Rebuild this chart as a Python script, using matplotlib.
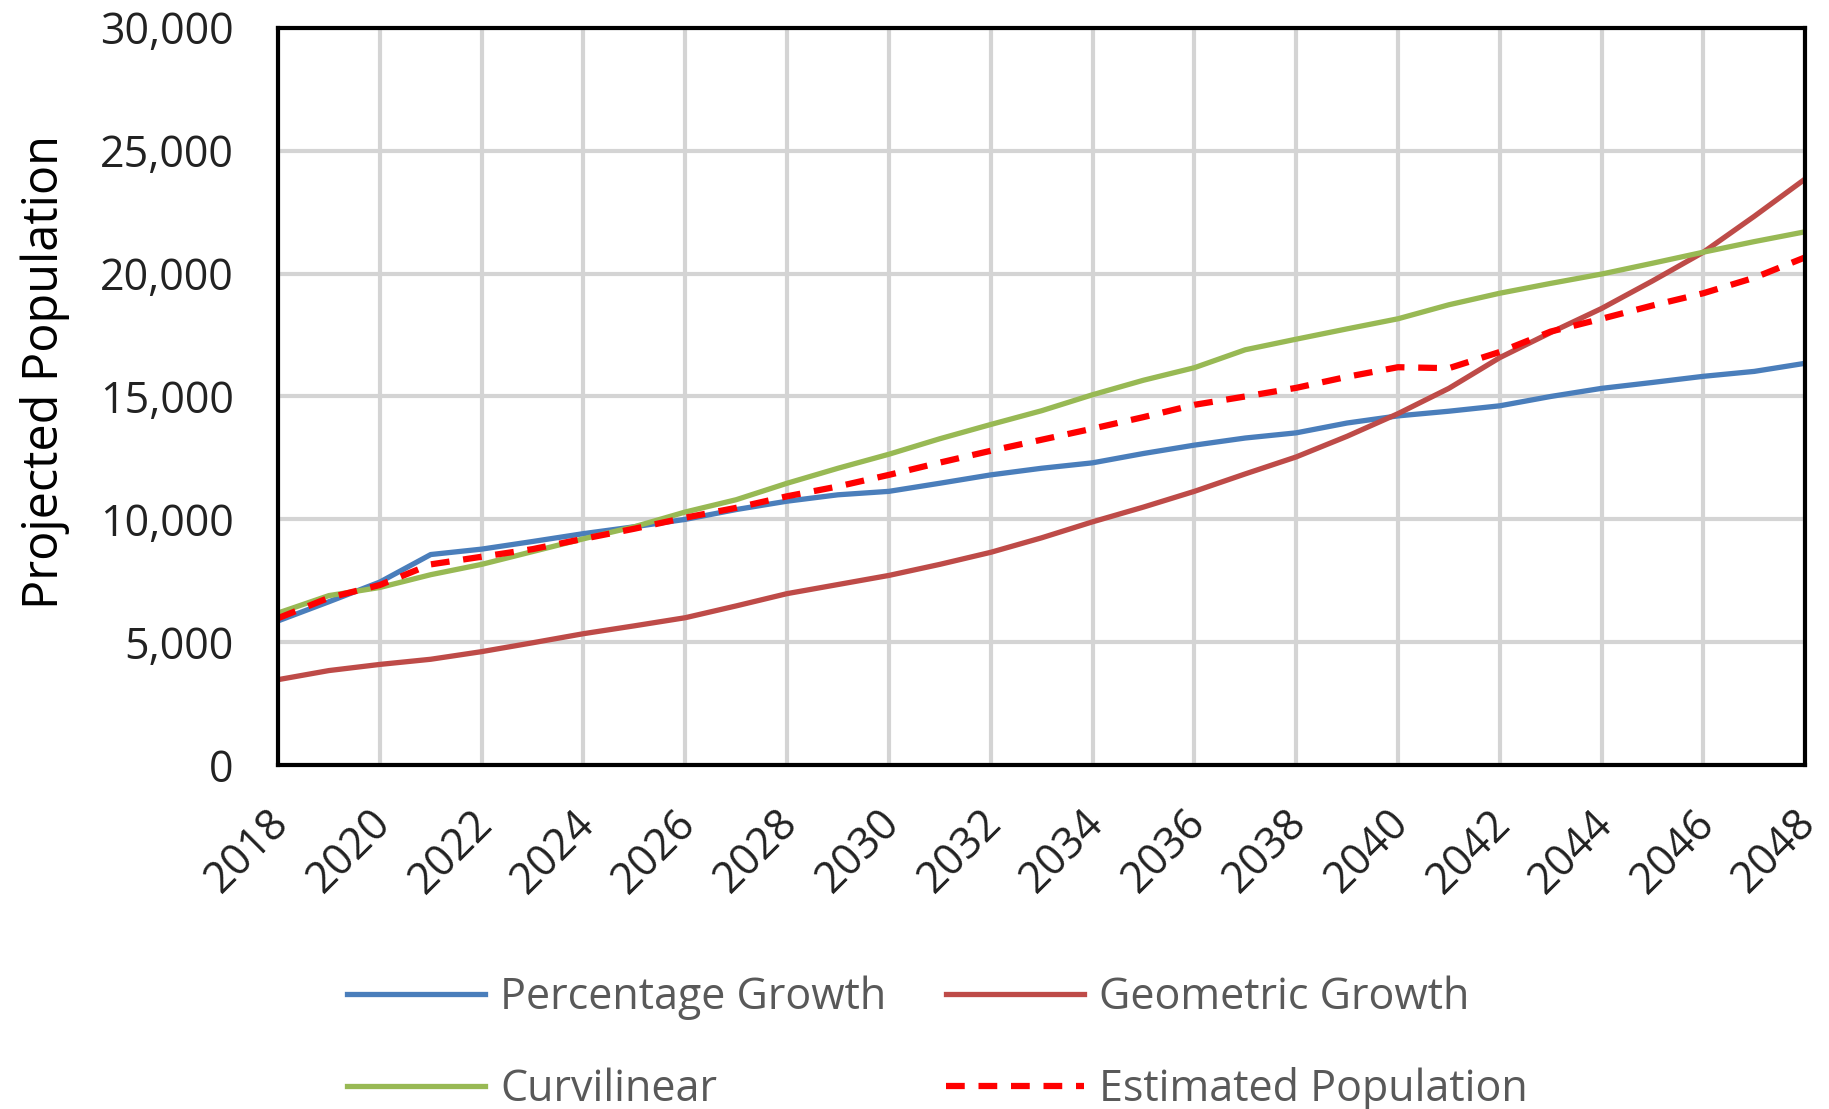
import matplotlib
matplotlib.use("Agg")
import matplotlib.pyplot as plt
import matplotlib.transforms as mtransforms
from matplotlib.ticker import FuncFormatter, MultipleLocator
import numpy as np

plt.rcParams['font.family'] = ['Open Sans', 'DejaVu Sans']

years = np.arange(2018, 2049)

percentage_growth = [5870, 6650, 7450, 8570, 8790, 9100, 9420, 9700, 10000, 10400,
                     10740, 11000, 11140, 11470, 11810, 12080, 12300, 12680, 13020, 13310,
                     13520, 13920, 14210, 14400, 14620, 15000, 15330, 15570, 15820, 16020,
                     16350]
geometric_growth = [3480, 3850, 4100, 4310, 4620, 4980, 5350, 5670, 6000, 6480,
                    6980, 7350, 7720, 8170, 8660, 9250, 9900, 10500, 11140, 11850,
                    12540, 13380, 14300, 15330, 16580, 17600, 18580, 19700, 20870, 22330,
                    23850]
curvilinear = [6190, 6900, 7230, 7750, 8170, 8690, 9210, 9700, 10300, 10800,
               11470, 12080, 12650, 13280, 13860, 14420, 15070, 15660, 16170, 16900,
               17330, 17750, 18160, 18730, 19200, 19600, 19980, 20420, 20870, 21300,
               21700]
estimated_population = [5980, 6810, 7330, 8170, 8480, 8790, 9210, 9620, 10070, 10470,
                        10940, 11340, 11810, 12310, 12790, 13240, 13690, 14160, 14660, 15000,
                        15350, 15800, 16190, 16150, 16810, 17640, 18160, 18700, 19200, 19830,
                        20660]

fig = plt.figure(figsize=(18.29, 11.09), dpi=100)
ax = fig.add_axes([0.152, 0.310, 0.835, 0.665])

l1, = ax.plot(years, percentage_growth, color='#4a7ebb', lw=3.8, label='Percentage Growth')
l2, = ax.plot(years, geometric_growth, color='#be4b48', lw=3.8, label='Geometric Growth')
l3, = ax.plot(years, curvilinear, color='#98b954', lw=3.8, label='Curvilinear')
l4, = ax.plot(years, estimated_population, color='#ff0000', lw=4.5, ls=(0, (3, 2.2)),
              label='Estimated Population')

ax.set_xlim(2018, 2048)
ax.set_ylim(0, 30000)
ax.xaxis.set_major_locator(MultipleLocator(2))
ax.yaxis.set_major_locator(MultipleLocator(5000))
ax.yaxis.set_major_formatter(FuncFormatter(lambda v, p: f"{int(v):,}"))
ax.grid(True, color='#d4d4d4', lw=3)
ax.set_axisbelow(True)
for s in ax.spines.values():
    s.set_linewidth(3)
    s.set_color('black')
ax.tick_params(length=0, labelsize=31, colors='#222222')
ax.tick_params(axis='y', pad=32)
ax.tick_params(axis='x', pad=12)
offset = mtransforms.ScaledTranslation(-8 / 72, -14 / 72, fig.dpi_scale_trans)
for lab in ax.get_xticklabels():
    lab.set_rotation(45)
    lab.set_ha('right')
    lab.set_rotation_mode('anchor')
    lab.set_transform(lab.get_transform() + offset)
ax.set_ylabel('Projected Population', fontsize=35)
ax.yaxis.set_label_coords(-0.136, 0.533)

fig.legend([l1, l3, l2, l4],
           ['Percentage Growth', 'Curvilinear', 'Geometric Growth', 'Estimated Population'],
           ncol=2, loc='upper left', bbox_to_anchor=(0.178, 0.14), frameon=False,
           fontsize=31, handlelength=3.2, handletextpad=0.35, columnspacing=1.4,
           labelspacing=1.1, borderpad=0, labelcolor='#595959')

fig.savefig('out.png', dpi=100)
